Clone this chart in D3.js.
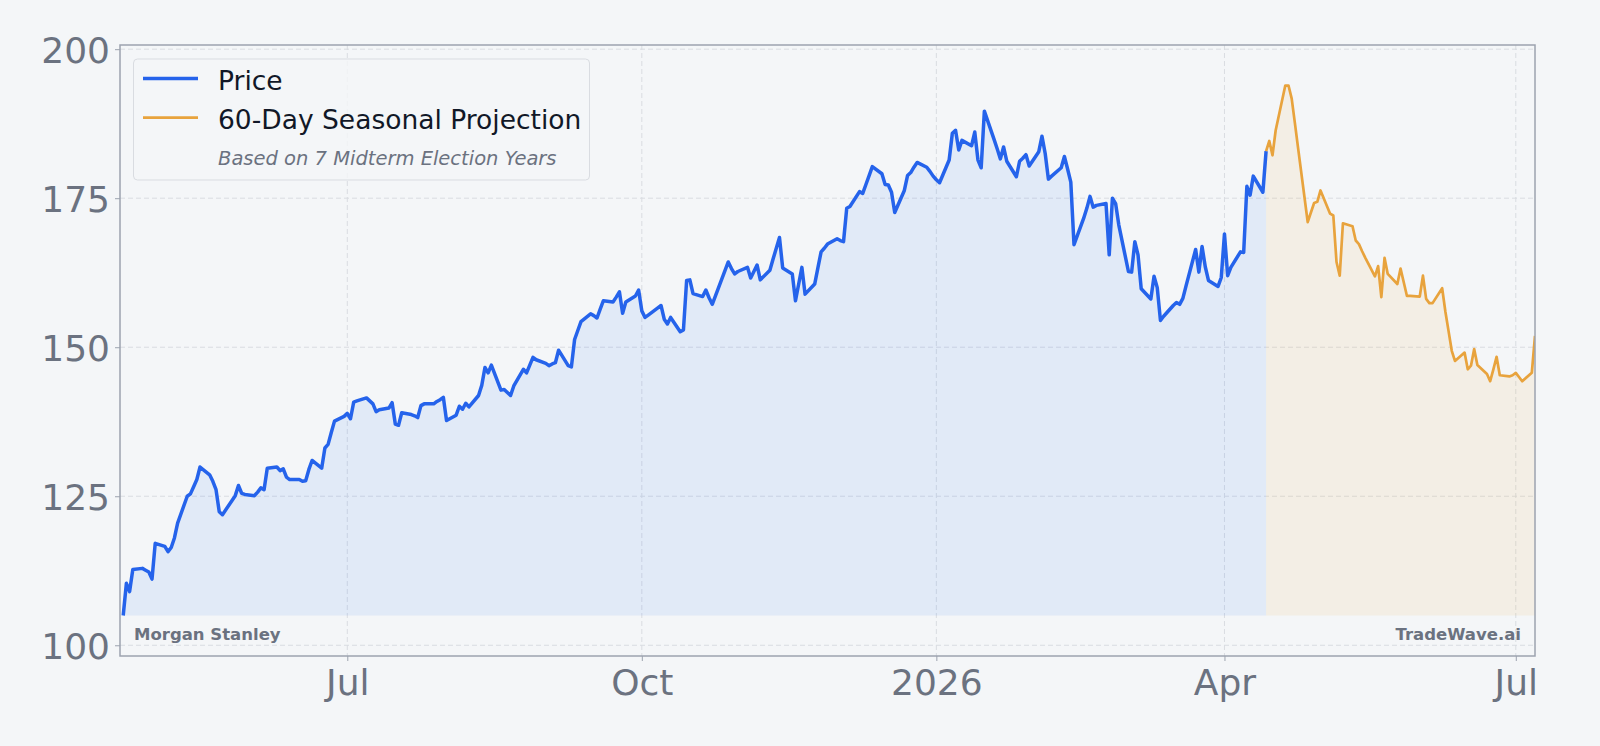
<!DOCTYPE html>
<html>
<head>
<meta charset="utf-8">
<script src="https://cdn.jsdelivr.net/npm/d3@7"></script>
<style>
  body { margin: 0; background: #f4f6f8; }
  text { font-family: "DejaVu Sans", sans-serif; }
</style>
</head>
<body>
<script>
// Price history (trading days from 2025-04-22) and the 60-day seasonal projection after it.

var priceStart = "2025-04-22";
var priceValues = [
  105.0, 110.4, 109.0, 112.7,
  112.9, 112.6, 112.3, 111.1, 117.1,
  116.6, 115.7, 116.4, 118.0, 120.5,
  125.0, 125.4, 126.6, 127.8, 129.9,
  128.6, 127.5, 126.1, 122.4, 121.9,
  124.3, 125.1, 126.8, 125.5, 125.3,
  125.1, 125.7, 126.4, 126.1, 129.7,
  129.9, 129.3, 129.6, 128.2, 127.8,
  127.8, 127.5, 127.6, 129.5, 131.0,
  129.7, 133.1, 133.7, 135.7, 137.6,
  138.4, 138.9, 138.0, 140.8, 141.0,
  141.5, 141.0, 140.5, 139.2, 139.5,
  139.8, 140.7, 137.1, 136.9, 139.0,
  138.7, 138.5, 138.2, 140.2, 140.5,
  140.5, 140.9, 141.2, 141.6, 137.7,
  138.6, 140.1, 139.6, 140.6, 140.0,
  141.9, 143.6, 146.6, 145.7, 147.0,
  142.8, 142.9, 142.4, 141.9, 143.5,
  146.3, 145.7, 147.0, 148.3, 147.9,
  147.3, 146.9, 147.2, 147.4, 149.5,
  146.9, 146.7, 151.3, 152.8, 154.3,
  155.6, 155.3, 154.9, 156.4, 157.8,
  157.6, 158.4, 159.3, 155.7, 157.6,
  158.6, 159.6, 156.1, 155.0, 155.4,
  156.6, 157.0, 154.7, 153.9, 155.0,
  152.6, 152.9, 161.2, 161.3, 159.0,
  158.5, 159.6, 158.3, 157.2, 158.6,
  162.9, 164.3, 163.2, 162.3, 162.7,
  163.4, 161.6, 162.7, 163.8, 161.3,
  162.9, 164.8, 166.6, 168.4, 163.3,
  162.3, 157.8, 160.6, 163.4, 158.9,
  160.6, 163.3, 166.0, 166.6, 167.3,
  168.2, 167.9, 167.7, 173.3, 173.6,
  176.1, 175.8, 177.3, 178.8, 180.3,
  179.1, 177.3, 177.2, 176.0, 172.6,
  176.3, 178.8, 179.3, 180.2, 181.0,
  180.2, 179.5, 178.7, 178.1, 177.6,
  181.4, 185.9, 186.4, 183.1, 184.7,
  183.8, 186.1, 181.4, 180.1, 189.6,
  184.9, 183.3, 181.6, 183.6, 181.2,
  178.6, 181.2, 181.7, 182.3, 180.4,
  182.8, 185.4, 182.5, 178.2, 178.7,
  180.1, 182.0, 179.9, 177.7, 167.2,
  171.6, 173.3, 175.3, 173.5, 173.8,
  174.1, 165.5, 175.0, 174.1, 170.5,
  162.7, 162.6, 167.7, 165.5, 159.8,
  158.1, 161.9, 160.0, 154.5, 155.2,
  157.0, 157.5, 157.2, 158.2, 160.3,
  166.4, 162.6, 166.9, 163.5, 161.2,
  160.2, 161.7, 169.0, 162.0, 163.4,
  166.0, 165.9, 177.0, 175.5, 178.7,
  176.0, 182.9
];

var projectionValues = [
  184.6, 182.2, 186.4,
  193.9, 193.9, 191.7, 187.6, 183.4,
  171.0, 172.6, 174.2, 174.4, 176.3,
  172.4, 172.1, 164.3, 162.0, 170.8,
  170.3, 167.9, 167.3, 166.1, 165.0,
  161.9, 163.6, 158.4, 165.0, 162.3,
  160.6, 163.2, 160.9, 158.6, 158.6,
  158.5, 162.0, 158.1, 157.4, 157.4,
  159.9, 156.0, 152.7, 149.4, 147.7,
  149.1, 146.3, 146.9, 149.7, 147.0,
  145.5, 144.3, 146.3, 148.4, 145.3,
  145.1, 145.3, 145.7, 145.0, 144.3,
  145.7, 151.9
];

var yTicks = [100, 125, 150, 175, 200];
var xTickDates = ["2025-07-01", "2025-10-01", "2026-01-01", "2026-04-01", "2026-07-01"];
var xTickLabels = ["Jul", "Oct", "2026", "Apr", "Jul"];
var legendLabels = ["Price", "60-Day Seasonal Projection"];
var legendNote = "Based on 7 Midterm Election Years";
var leftNote = "Morgan Stanley";
var rightNote = "TradeWave.ai";

var width = 1600;
var height = 746;
var plot = {left: 120, right: 1535, top: 45, bottom: 656};

var bg = "#f4f6f8";
var blue = "#2563eb";
var orange = "#e8a33d";
var grey = "#6b7280";

var parseDate = d3.timeParse("%Y-%m-%d");

// weekdays only, starting on (or after) start
function tradingDays(start, n) {
  var out = [];
  var d = start;
  while (out.length < n) {
    var wd = d.getDay();
    if (wd !== 0 && wd !== 6) out.push(d);
    d = d3.timeDay.offset(d, 1);
  }
  return out;
}

var priceDates = tradingDays(parseDate(priceStart), priceValues.length);
var lastPrice = priceDates[priceDates.length - 1];
var projDates = tradingDays(d3.timeDay.offset(lastPrice, 1), projectionValues.length);

var priceData = priceDates.map(function(d, i) { return {date: d, value: priceValues[i]}; });
var projData = [{date: lastPrice, value: priceValues[priceValues.length - 1]}]
  .concat(projDates.map(function(d, i) { return {date: d, value: projectionValues[i]}; }));

var baseline = d3.min(priceValues);

var x = d3.scaleTime()
  .domain([d3.timeDay.offset(priceDates[0], -1), projDates[projDates.length - 1]])
  .range([plot.left, plot.right]);

var y = d3.scaleLinear()
  .domain([98.2, 200.7])
  .range([plot.bottom, plot.top]);

var svg = d3.select("body").append("svg")
  .attr("width", width)
  .attr("height", height);

svg.append("rect").attr("width", width).attr("height", height).attr("fill", bg);

svg.append("clipPath").attr("id", "plotclip")
  .append("rect")
  .attr("x", plot.left).attr("y", plot.top)
  .attr("width", plot.right - plot.left).attr("height", plot.bottom - plot.top);

// grid
var grid = svg.append("g").attr("stroke", "#d9dce1").attr("stroke-width", 1).attr("stroke-dasharray", "5,3");
grid.selectAll("line.h").data(yTicks).enter().append("line")
  .attr("x1", plot.left).attr("x2", plot.right)
  .attr("y1", function(d) { return y(d); }).attr("y2", function(d) { return y(d); });
grid.selectAll("line.v").data(xTickDates).enter().append("line")
  .attr("y1", plot.top).attr("y2", plot.bottom)
  .attr("x1", function(d) { return x(parseDate(d)); }).attr("x2", function(d) { return x(parseDate(d)); });

var chart = svg.append("g").attr("clip-path", "url(#plotclip)");

var area = d3.area()
  .x(function(d) { return x(d.date); })
  .y0(y(baseline))
  .y1(function(d) { return y(d.value); });

var line = d3.line()
  .x(function(d) { return x(d.date); })
  .y(function(d) { return y(d.value); });

chart.append("path").datum(priceData).attr("d", area)
  .attr("fill", "#3b82f6").attr("fill-opacity", 0.1);
chart.append("path").datum(projData).attr("d", area)
  .attr("fill", "#f59e0b").attr("fill-opacity", 0.08);

chart.append("path").datum(priceData).attr("d", line)
  .attr("fill", "none").attr("stroke", blue).attr("stroke-width", 3.5)
  .attr("stroke-linejoin", "round");
chart.append("path").datum(projData).attr("d", line)
  .attr("fill", "none").attr("stroke", orange).attr("stroke-width", 2.7)
  .attr("stroke-linejoin", "round");

// axes
var yAxis = d3.axisLeft(y).tickValues(yTicks).tickSize(5).tickPadding(5);
var xAxis = d3.axisBottom(x)
  .tickValues(xTickDates.map(parseDate))
  .tickFormat(function(d, i) { return xTickLabels[i]; })
  .tickSize(5).tickPadding(8);

var gy = svg.append("g").attr("transform", "translate(" + plot.left + ",0)").call(yAxis);
var gx = svg.append("g").attr("transform", "translate(0," + plot.bottom + ")").call(xAxis);

[gx, gy].forEach(function(g) {
  g.select(".domain").remove();
  g.selectAll(".tick line").attr("stroke", "#9ca3af").attr("stroke-width", 1);
  g.selectAll(".tick text")
    .attr("fill", grey)
    .attr("font-size", 36)
    .attr("font-family", "DejaVu Sans, sans-serif");
});
gy.selectAll(".tick text").attr("dy", "0.36em");
gx.selectAll(".tick text").attr("dy", "0.71em");

// frame
svg.append("rect")
  .attr("x", plot.left).attr("y", plot.top)
  .attr("width", plot.right - plot.left).attr("height", plot.bottom - plot.top)
  .attr("fill", "none").attr("stroke", "#9ca3af").attr("stroke-width", 1.5);

// legend
var legend = svg.append("g");
legend.append("rect")
  .attr("x", 133.5).attr("y", 59).attr("width", 456).attr("height", 121)
  .attr("rx", 4)
  .attr("fill", bg).attr("fill-opacity", 0.8)
  .attr("stroke", "#d9dce1").attr("stroke-width", 1);

var legendColors = [blue, orange];
var legendWidths = [3.5, 2.7];
legendLabels.forEach(function(label, i) {
  var ly = 78.5 + i * 39.2;
  legend.append("line")
    .attr("x1", 143).attr("x2", 198).attr("y1", ly).attr("y2", ly)
    .attr("stroke", legendColors[i]).attr("stroke-width", legendWidths[i]);
  legend.append("text")
    .attr("x", 218).attr("y", ly + 11)
    .attr("font-size", 26.5).attr("fill", "#111827")
    .text(label);
});
legend.append("text")
  .attr("x", 218).attr("y", 165)
  .attr("font-size", 19.5).attr("font-style", "italic").attr("fill", grey)
  .text(legendNote);

// footers
svg.append("text")
  .attr("x", 134).attr("y", 640)
  .attr("font-size", 16.5).attr("font-weight", "bold").attr("fill", grey)
  .text(leftNote);
svg.append("text")
  .attr("x", 1521).attr("y", 640)
  .attr("text-anchor", "end")
  .attr("font-size", 16.5).attr("font-weight", "bold").attr("fill", grey)
  .text(rightNote);
</script>
</body>
</html>
